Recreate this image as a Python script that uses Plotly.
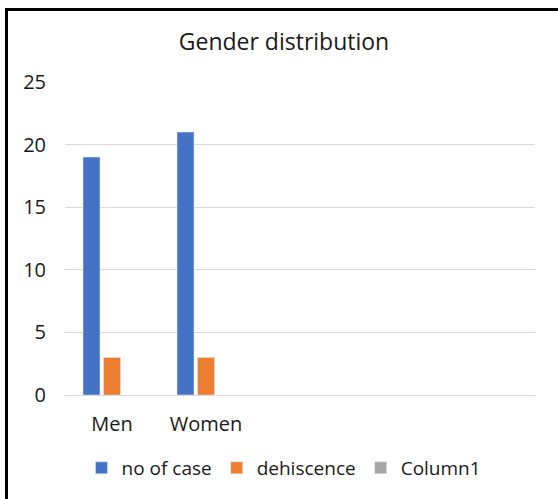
import plotly.graph_objects as go

categories = ["Men", "Women", " ", "  ", "   "]
no_of_case = [19, 21, None, None, None]
dehiscence = [3, 3, None, None, None]
column1 = [None, None, None, None, None]
y_ticks = [0, 5, 10, 15, 20, 25]

FONT = "Open Sans"
TXT = "#1A1A1A"

fig = go.Figure()
fig.add_bar(x=categories, y=no_of_case, name="no of case", marker_color="#4472C4")
fig.add_bar(x=categories, y=dehiscence, name="dehiscence", marker_color="#ED7D31")
fig.add_bar(x=categories, y=column1, name="Column1", marker_color="#A5A5A5")

L, R, T, B = 65, 23, 82, 104
W, H = 558, 499
pw = W - L - R
ph = H - T - B

fig.update_layout(
    width=W, height=H,
    margin=dict(l=L, r=R, t=T, b=B, pad=0),
    paper_bgcolor="white", plot_bgcolor="white",
    barmode="group", bargap=0.346, bargroupgap=0.17,
    font=dict(family=FONT, size=20, color=TXT),
    title=dict(text="Gender distribution", x=284 / W, xanchor="center",
               y=1 - 42 / H, yanchor="middle", font=dict(size=23, color=TXT)),
    xaxis=dict(type="category", categoryorder="array", categoryarray=categories,
               range=[-0.5, 4.5], showgrid=False, showline=True, linecolor="#D9D9D9",
               linewidth=1, ticks="", ticklabelstandoff=11, tickfont=dict(size=20)),
    yaxis=dict(range=[0, 25], tickvals=y_ticks, showgrid=True, gridcolor="#D9D9D9",
               gridwidth=1, zeroline=False, showline=False, ticks="",
               ticklabelstandoff=18, tickfont=dict(size=20)),
    legend=dict(orientation="h", x=(284 - L) / pw, xanchor="center",
                y=(H - B - 468) / ph, yanchor="middle", font=dict(size=19),
                itemwidth=30, traceorder="normal"),
    shapes=[dict(type="rect", xref="paper", yref="paper",
                 x0=(6.5 - L) / pw, x1=(W + 20 - L) / pw,
                 y0=-(B + 20) / ph, y1=(H - B - 9.5) / ph,
                 line=dict(color="black", width=3), layer="above")],
)

fig.write_html("out.html", config={"displayModeBar": False},
               post_script="document.body.style.margin='0';")
